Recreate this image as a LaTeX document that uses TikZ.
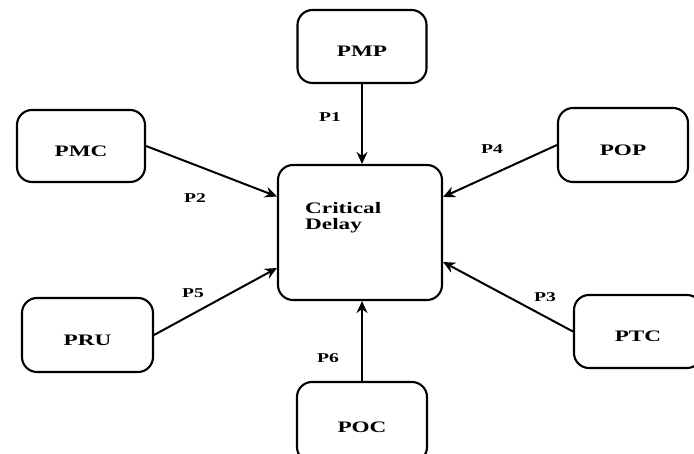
\documentclass[tikz,border=0pt]{standalone}
\usepackage{fontspec}
\setmainfont{Liberation Serif}
\usetikzlibrary{arrows.meta,calc}
\newcommand{\hs}[1]{\scalebox{1.45}[1]{#1}}
\tikzset{
  pbox/.style={draw, line width=2.1pt, rounded corners=15pt, inner sep=0pt,
    font=\fontsize{16}{18}\selectfont\bfseries, text height=21pt, text depth=0pt},
  plabel/.style={font=\fontsize{13.5}{15}\selectfont\bfseries, inner sep=0pt},
  conn/.style={line width=2pt, -{Stealth[length=12pt,width=11pt,inset=4pt]}}
}
\begin{document}
\begin{tikzpicture}[x=1pt,y=1pt]
\clip (0,0) rectangle (694,454);
\useasboundingbox (0,0) rectangle (694,454);
\fill[white] (0,0) rectangle (694,454);
\node[pbox, minimum width=129pt, minimum height=73pt] (pmp) at (362,407.5) {\hs{PMP}};
\node[pbox, minimum width=128pt, minimum height=72pt] (pmc) at (81,308) {\hs{PMC}};
\node[pbox, minimum width=130pt, minimum height=74pt] (pop) at (623,309) {\hs{POP}};
\node[pbox, minimum width=164pt, minimum height=135pt, text height=0pt] (cd) at (360,221.5) {};
\node[pbox, minimum width=131pt, minimum height=74pt] (pru) at (87.5,119) {\hs{PRU}};
\node[pbox, minimum width=128pt, minimum height=73pt] (ptc) at (638,122.5) {\hs{PTC}};
\node[pbox, minimum width=130pt, minimum height=80pt] (poc) at (362,32) {\hs{POC}};
\node[font=\fontsize{16}{16.5}\selectfont\bfseries, align=left, anchor=north west, inner sep=0pt] (cdt) at (305,252) {\hs{Critical}\\\hs{Delay}};
\draw[conn] (pmp.south) -- (pmp.south |- cd.north);
\draw[conn] (pmc.east) -- ($(cd.west)+(0,36)$);
\draw[conn] (pop.west) -- ($(cd.east)+(0,35.5)$);
\draw[conn] (pru.east) -- ($(cd.west)+(0,-35.5)$);
\draw[conn] (ptc.west) -- ($(cd.east)+(0,-29.5)$);
\draw[conn] (poc.north) -- (poc.north |- cd.south);
\node[plabel] (l1) at (330,337) {\hs{P1}};
\node[plabel] (l2) at (195,256) {\hs{P2}};
\node[plabel] (l4) at (492,305) {\hs{P4}};
\node[plabel] (l5) at (193,161) {\hs{P5}};
\node[plabel] (l3) at (545,157) {\hs{P3}};
\node[plabel] (l6) at (328,96) {\hs{P6}};
\end{tikzpicture}
\end{document}
